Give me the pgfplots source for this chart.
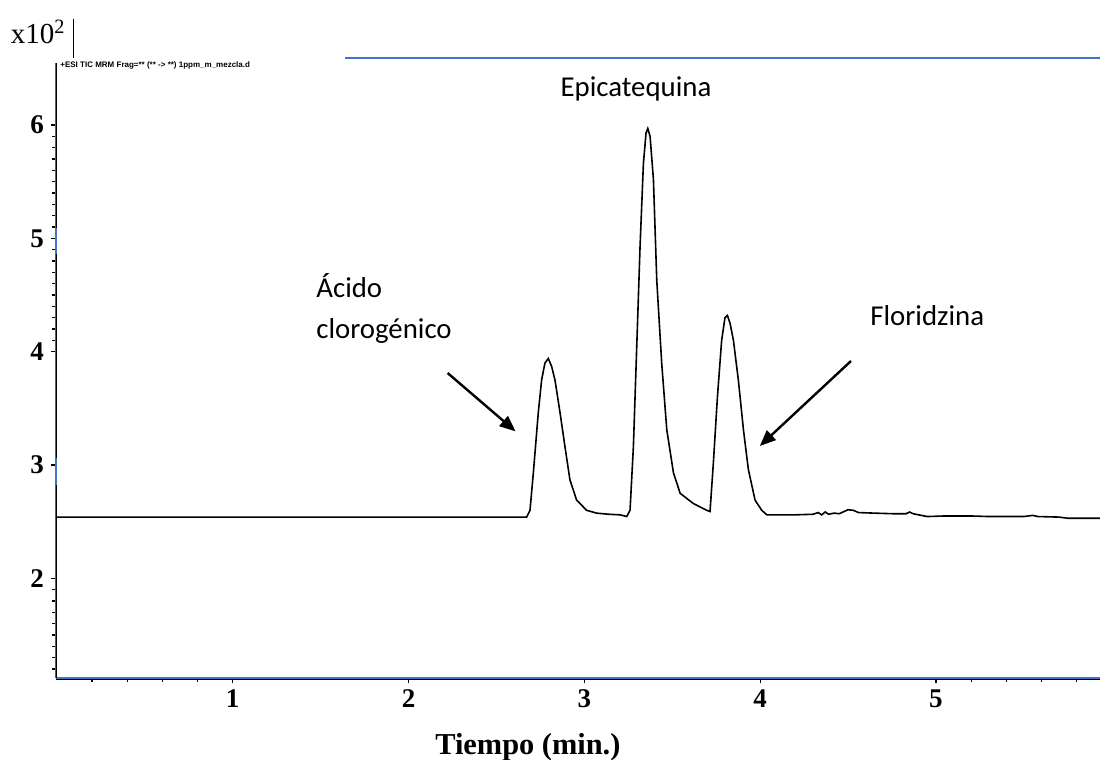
\documentclass[border=0pt]{standalone}
\usepackage{pgfplots}
\pgfplotsset{compat=1.18}
\usepackage{fontspec}
\setmainfont{Liberation Serif}
\newfontfamily\calibri{Carlito}
\newfontfamily\hdr{Liberation Sans}
\usetikzlibrary{arrows.meta}
\definecolor{axblue}{RGB}{68,114,196}
\begin{document}
\begin{tikzpicture}[x=0.5pt,y=0.5pt]
\begin{axis}[
  scale only axis, width=522pt, height=307.5pt,
  xmin=-0.005, xmax=5.933, ymin=1.12, ymax=6.548,
  axis x line*=bottom, axis y line*=left,
  axis line style={draw=axblue, line width=1pt, -},
  xtick={1,2,3,4,5}, ytick={2,3,4,5,6},
  minor xtick={0.2,0.4,0.6,0.8,5.2,5.4,5.6,5.8},
  minor ytick={1.2,1.3,1.4,1.5,1.6,1.7,1.8,1.9,4.1,4.2,4.3,4.4,4.5,4.6,4.7,4.8,4.9,5.1,5.2,5.3,5.4,5.5,5.6,5.7,5.8,5.9},
  tick align=outside, major tick length=2.5pt, minor tick length=2pt,
  tick style={black, line width=0.6pt},
  ticklabel style={font=\bfseries\fontsize{13.5}{15}\selectfont},
  /pgf/number format/assume math mode=true,
  xlabel={Tiempo (min.)},
  xlabel style={at={(axis description cs:0.452,0)}, anchor=base, yshift=-38.5pt, font=\bfseries\fontsize{15.2}{18}\selectfont},
]
\addplot[black, line width=0.8pt, sharp plot] coordinates {
(-0.005,2.54) (2.672,2.54) (2.691,2.60) (2.710,2.93) (2.738,3.46) (2.757,3.75) (2.776,3.90) (2.795,3.94) (2.814,3.87) (2.833,3.75) (2.862,3.46) (2.890,3.16) (2.918,2.87) (2.956,2.69) (3.013,2.60) (3.070,2.575) (3.14,2.565) (3.203,2.56) (3.241,2.545)
(3.260,2.60) (3.279,3.16) (3.298,4.04) (3.317,4.93) (3.336,5.66) (3.351,5.93) (3.361,5.97) (3.374,5.90) (3.393,5.52) (3.412,4.63) (3.440,3.90) (3.469,3.31) (3.507,2.93) (3.545,2.75) (3.620,2.66) (3.696,2.60) (3.715,2.59)
(3.734,3.02) (3.757,3.60) (3.781,4.10) (3.800,4.30) (3.814,4.32) (3.829,4.25) (3.848,4.10) (3.876,3.75) (3.905,3.31) (3.933,2.96) (3.971,2.69) (4.009,2.60) (4.038,2.56) (4.113,2.56)
(4.20,2.56) (4.30,2.565) (4.33,2.58) (4.35,2.56) (4.37,2.585) (4.39,2.565) (4.42,2.575) (4.45,2.57) (4.50,2.605) (4.53,2.60) (4.56,2.58) (4.65,2.575) (4.75,2.57) (4.83,2.57) (4.85,2.585) (4.87,2.57) (4.95,2.545) (5.05,2.55) (5.20,2.55) (5.30,2.545) (5.50,2.545) (5.55,2.555) (5.58,2.545) (5.70,2.54) (5.75,2.53) (5.933,2.53)
};
\draw[black, line width=0.9pt] (axis cs:-0.005,6.548) -- (axis cs:-0.005,5.09);
\draw[black, line width=0.9pt] (axis cs:-0.005,4.86) -- (axis cs:-0.005,3.06);
\draw[black, line width=0.9pt] (axis cs:-0.005,2.82) -- (axis cs:-0.005,1.12);
\coordinate (O) at (rel axis cs:0,0);
\end{axis}
\begin{scope}[shift={(O)}, xshift=-28pt, yshift=-41pt]
\draw[black, line width=0.5pt] (56,80.5) -- (1100,80.5);
\draw[axblue, line width=1pt] (345,702) -- (1100,702);
\draw[black, line width=0.4pt] (73.7,741) -- (73.7,702);
\node[anchor=base west, inner sep=0pt, font=\fontsize{14.5}{16}\selectfont] at (10.5,716) {x10\textsuperscript{2}};
\node[anchor=west, inner sep=0pt, font=\hdr\bfseries\fontsize{4}{5}\selectfont] at (60,695) {+ESI TIC MRM Frag=** (** -> **) 1ppm\_m\_mezcla.d};
\node[anchor=base, inner sep=0pt, font=\calibri\fontsize{14.4}{17}\selectfont] at (636,663) {Epicatequina};
\node[anchor=base west, inner sep=0pt, font=\calibri\fontsize{14.4}{17}\selectfont] at (316,462) {Ácido};
\node[anchor=base west, inner sep=0pt, font=\calibri\fontsize{14.4}{17}\selectfont] at (316,421) {clorogénico};
\node[anchor=base west, inner sep=0pt, font=\calibri\fontsize{14.4}{17}\selectfont] at (870,434) {Floridzina};
\draw[line width=1.2pt, -{Triangle[length=8pt,width=6.5pt]}] (447.6,387) -- (515.6,328.6);
\draw[line width=1.2pt, -{Triangle[length=8pt,width=6.5pt]}] (851,399) -- (759.8,314);
\pgfresetboundingbox
\path[use as bounding box] (0,0) rectangle (1100,760);
\end{scope}
\end{tikzpicture}
\end{document}
